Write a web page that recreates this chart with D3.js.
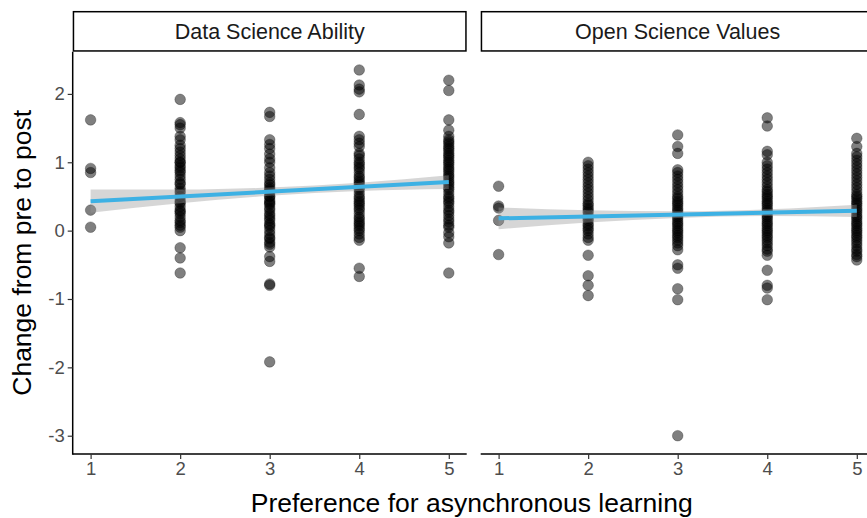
<!DOCTYPE html>
<html>
<head>
<meta charset="utf-8">
<script src="https://cdn.jsdelivr.net/npm/d3@7"></script>
<style>
  body { margin: 0; background: #fff; }
  text { font-family: "Liberation Sans", Arial, Helvetica, sans-serif; }
</style>
</head>
<body>
<div id="svganchor"></div>
<script>
let width = 867;
let height = 518;

// facet names and x categories
const facets = ["Data Science Ability", "Open Science Values"];
const prefLevels = [1, 2, 3, 4, 5];

// change scores, one list per preference level
const dsaChange = [
  [1.62, 0.91, 0.85, 0.30, 0.05],
  [1.92, 1.58, 1.55, 1.50, 1.38, 1.33, 1.25, 1.20, 1.15, 1.10, 1.05, 1.00, 1.00, 0.95, 0.92, 0.88, 0.85, 0.80,
   0.75, 0.70, 0.68, 0.62, 0.58, 0.55, 0.50, 0.45, 0.42, 0.40, 0.35, 0.30, 0.28, 0.25, 0.20, 0.15, 0.12, 0.08,
   0.05, 0.00, -0.25, -0.40, -0.62],
  [1.73, 1.67, 1.33, 1.26, 1.20, 1.12, 1.05, 1.00, 0.92, 0.85, 0.80, 0.75, 0.70, 0.67, 0.63, 0.60, 0.58, 0.55,
   0.50, 0.50, 0.45, 0.42, 0.40, 0.38, 0.33, 0.30, 0.25, 0.22, 0.18, 0.15, 0.10, 0.08, 0.05, 0.00, -0.05, -0.10,
   -0.12, -0.17, -0.20, -0.24, -0.38, -0.45, -0.78, -0.80, -1.92],
  [2.35, 2.13, 2.07, 2.03, 1.70, 1.38, 1.33, 1.28, 1.23, 1.13, 1.10, 1.05, 1.00, 0.97, 0.93, 0.90, 0.85, 0.80,
   0.77, 0.73, 0.70, 0.67, 0.63, 0.60, 0.55, 0.50, 0.47, 0.43, 0.40, 0.37, 0.33, 0.30, 0.25, 0.20, 0.17, 0.13,
   0.10, 0.07, 0.03, 0.00, -0.05, -0.10, -0.14, -0.55, -0.67],
  [2.20, 2.05, 1.62, 1.47, 1.38, 1.33, 1.30, 1.27, 1.23, 1.20, 1.17, 1.13, 1.10, 1.07, 1.03, 1.00, 0.97, 0.93,
   0.90, 0.87, 0.83, 0.80, 0.77, 0.73, 0.70, 0.67, 0.63, 0.60, 0.55, 0.50, 0.47, 0.43, 0.40, 0.35, 0.30, 0.27,
   0.22, 0.17, 0.13, 0.08, 0.05, -0.03, -0.09, -0.18, -0.62]
];

const osvChange = [
  [0.65, 0.36, 0.33, 0.15, -0.35],
  [1.00, 0.95, 0.90, 0.85, 0.80, 0.75, 0.70, 0.65, 0.60, 0.55, 0.50, 0.45, 0.40, 0.37, 0.33, 0.30, 0.27, 0.22,
   0.18, 0.15, 0.10, 0.07, 0.03, 0.00, -0.05, -0.10, -0.14, -0.36, -0.66, -0.80, -0.95],
  [1.40, 1.23, 1.13, 0.89, 0.85, 0.80, 0.75, 0.70, 0.65, 0.60, 0.55, 0.50, 0.47, 0.43, 0.40, 0.37, 0.33, 0.30,
   0.27, 0.23, 0.20, 0.17, 0.13, 0.10, 0.07, 0.03, 0.00, -0.03, -0.07, -0.10, -0.14, -0.18, -0.22, -0.28, -0.50,
   -0.55, -0.85, -1.01, -3.00],
  [1.65, 1.53, 1.16, 1.11, 1.00, 0.95, 0.90, 0.85, 0.80, 0.75, 0.70, 0.65, 0.60, 0.57, 0.53, 0.50, 0.47, 0.43,
   0.40, 0.37, 0.33, 0.30, 0.27, 0.23, 0.20, 0.17, 0.13, 0.10, 0.07, 0.03, 0.00, -0.03, -0.07, -0.10, -0.14,
   -0.18, -0.22, -0.27, -0.30, -0.36, -0.58, -0.80, -0.84, -1.01],
  [1.35, 1.23, 1.13, 1.08, 1.03, 0.98, 0.93, 0.88, 0.83, 0.78, 0.73, 0.68, 0.63, 0.58, 0.53, 0.50, 0.47, 0.43,
   0.40, 0.37, 0.33, 0.30, 0.27, 0.23, 0.20, 0.17, 0.13, 0.10, 0.07, 0.03, 0.00, -0.03, -0.07, -0.10, -0.14,
   -0.18, -0.22, -0.27, -0.30, -0.35, -0.38, -0.43]
];

// lm fit per facet, and half width of the grey band at each level
const fitIntercept = [0.36, 0.1525];
const fitSlope = [0.07, 0.0275];
const bandHalf = [
  [0.17, 0.10, 0.06, 0.06, 0.10],
  [0.16, 0.09, 0.05, 0.05, 0.09]
];

const yTicks = [-3, -2, -1, 0, 1, 2];

let panelLeft = [72.7, 480.7];
let panelW = 394;
let stripTop = 11.7;
let stripH = 40;
let panelTop = stripTop + stripH;
let panelBottom = 454;

let svg = d3.select("#svganchor").append("svg").attr("width", width).attr("height", height);

let allPoints = [];
[dsaChange, osvChange].forEach(function (facetData, fi) {
  facetData.forEach(function (vals, li) {
    vals.forEach(function (v) {
      allPoints.push({ facet: fi, x: prefLevels[li], y: v });
    });
  });
});

// ggplot style 5% expansion
let xExt = d3.extent(prefLevels);
let xPad = (xExt[1] - xExt[0]) * 0.05;
let yExt = d3.extent(allPoints, d => d.y);
let yPad = (yExt[1] - yExt[0]) * 0.05;

let xScale = d3.scaleLinear().domain([xExt[0] - xPad, xExt[1] + xPad]).range([0, panelW]);
let yScale = d3.scaleLinear().domain([yExt[0] - yPad, yExt[1] + yPad]).range([panelBottom, panelTop]);

facets.forEach(function (name, fi) {
  let g = svg.append("g").attr("transform", "translate(" + panelLeft[fi] + ",0)");

  // strip
  g.append("rect")
    .attr("x", 0.75).attr("y", stripTop)
    .attr("width", panelW - 1.5).attr("height", stripH - 0.75)
    .attr("fill", "white").attr("stroke", "black").attr("stroke-width", 1.5);
  g.append("text")
    .attr("x", panelW / 2).attr("y", stripTop + stripH / 2 + 7)
    .attr("text-anchor", "middle")
    .attr("font-size", "21.5px").attr("fill", "#1a1a1a")
    .text(name);

  // points
  g.selectAll(".pt")
    .data(allPoints.filter(d => d.facet === fi))
    .enter()
    .append("circle")
    .attr("class", "pt")
    .attr("cx", d => xScale(d.x))
    .attr("cy", d => yScale(d.y))
    .attr("r", 5.3)
    .attr("fill", "black").attr("fill-opacity", 0.5)
    .attr("stroke", "black").attr("stroke-opacity", 0.35).attr("stroke-width", 0.8);

  // confidence band and fitted line
  let fit = x => fitIntercept[fi] + fitSlope[fi] * x;
  let band = d3.area()
    .x(d => xScale(d))
    .y0((d, i) => yScale(fit(d) - bandHalf[fi][i]))
    .y1((d, i) => yScale(fit(d) + bandHalf[fi][i]))
    .curve(d3.curveMonotoneX);
  g.append("path")
    .datum(prefLevels)
    .attr("d", band)
    .attr("fill", "#999999").attr("fill-opacity", 0.4);

  g.append("line")
    .attr("x1", xScale(prefLevels[0])).attr("y1", yScale(fit(prefLevels[0])))
    .attr("x2", xScale(prefLevels[4])).attr("y2", yScale(fit(prefLevels[4])))
    .attr("stroke", "#3db1e4").attr("stroke-width", 4);

  // x axis
  let xAxis = d3.axisBottom(xScale).tickValues(prefLevels).tickSize(5).tickPadding(3).tickFormat(d => String(d));
  let xg = g.append("g").attr("transform", "translate(0," + panelBottom + ")").call(xAxis);
  xg.select(".domain").attr("stroke", "black").attr("stroke-width", 1.5).attr("d", "M0,0H" + panelW);
  xg.selectAll(".tick line").attr("stroke", "#333").attr("stroke-width", 1.2);
  xg.selectAll(".tick text").attr("font-size", "18.5px").attr("fill", "#4d4d4d")
    .attr("font-family", "Liberation Sans, Arial, sans-serif");

  // y axis only on the first panel
  if (fi === 0) {
    let yAxis = d3.axisLeft(yScale).tickValues(yTicks).tickSize(5).tickPadding(3).tickFormat(d => String(d));
    let yg = g.append("g").call(yAxis);
    yg.select(".domain").attr("stroke", "black").attr("stroke-width", 1.5)
      .attr("d", "M0," + panelTop + "V" + (panelBottom + 0.75));
    yg.selectAll(".tick line").attr("stroke", "#333").attr("stroke-width", 1.2);
    yg.selectAll(".tick text").attr("font-size", "18.5px").attr("fill", "#4d4d4d")
      .attr("font-family", "Liberation Sans, Arial, sans-serif");
  }
});

// axis titles
svg.append("text")
  .attr("x", (panelLeft[0] + panelLeft[1] + panelW) / 2 - 2).attr("y", 512)
  .attr("text-anchor", "middle")
  .attr("font-size", "26.5px").attr("fill", "black")
  .text("Preference for asynchronous learning");

svg.append("text")
  .attr("transform", "translate(31," + ((panelTop + panelBottom) / 2) + ") rotate(-90)")
  .attr("text-anchor", "middle")
  .attr("font-size", "26.5px").attr("fill", "black")
  .text("Change from pre to post");
</script>
</body>
</html>
